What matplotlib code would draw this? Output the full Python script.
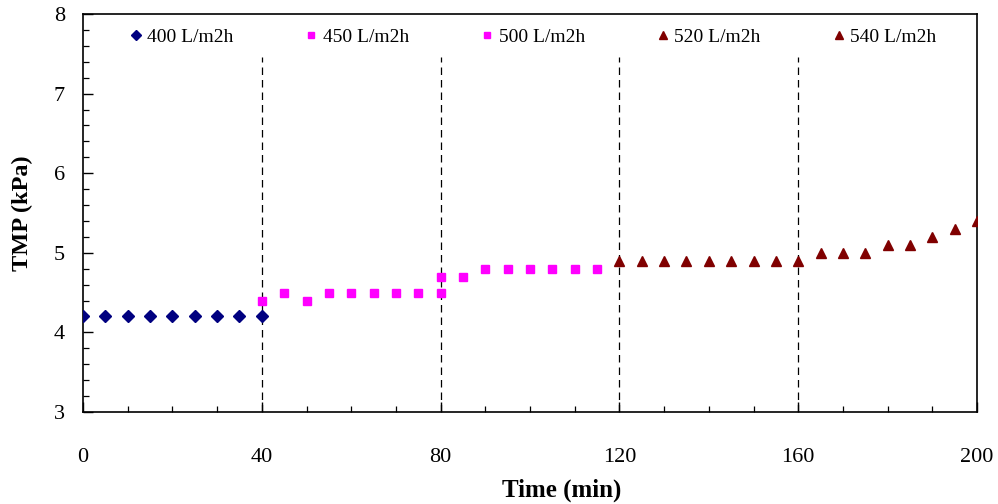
import matplotlib.pyplot as plt
from matplotlib.ticker import MultipleLocator

plt.rcParams['font.family'] = ['Liberation Serif', 'DejaVu Serif']

# TMP at each flux step
t_400 = [0, 5, 10, 15, 20, 25, 30, 35, 40]
tmp_400 = [4.2, 4.2, 4.2, 4.2, 4.2, 4.2, 4.2, 4.2, 4.2]

t_450 = [40, 45, 50, 55, 60, 65, 70, 75, 80]
tmp_450 = [4.4, 4.5, 4.4, 4.5, 4.5, 4.5, 4.5, 4.5, 4.5]

t_500 = [80, 85, 90, 95, 100, 105, 110, 115]
tmp_500 = [4.7, 4.7, 4.8, 4.8, 4.8, 4.8, 4.8, 4.8]

t_520 = [120, 125, 130, 135, 140, 145, 150, 155, 160]
tmp_520 = [4.9, 4.9, 4.9, 4.9, 4.9, 4.9, 4.9, 4.9, 4.9]

t_540 = [165, 170, 175, 180, 185, 190, 195, 200]
tmp_540 = [5.0, 5.0, 5.0, 5.1, 5.1, 5.2, 5.3, 5.4]

step_times = [40, 80, 120, 160]
labels = ["400 L/m2h", "450 L/m2h", "500 L/m2h", "520 L/m2h", "540 L/m2h"]

fig = plt.figure(figsize=(9.98, 5.04), dpi=100)
ax = fig.add_axes([0.0832, 0.1825, 0.8958, 0.7897])

# step boundaries
for t in step_times:
    ax.plot([t, t], [3, 7.46], color="black", lw=0.9, ls=(0, (6, 4)), zorder=1)

ax.plot(t_400, tmp_400, ls="none", marker="D", ms=6.3, color="#000080", label=labels[0], zorder=3)
ax.plot(t_450, tmp_450, ls="none", marker="s", ms=6.3, color="#FF00FF", label=labels[1], zorder=3)
ax.plot(t_500, tmp_500, ls="none", marker="s", ms=6.3, color="#FF00FF", label=labels[2], zorder=3)
ax.plot(t_520, tmp_520, ls="none", marker="^", ms=7, color="#800000", label=labels[3], zorder=3)
ax.plot(t_540, tmp_540, ls="none", marker="^", ms=7, color="#800000", label=labels[4], zorder=3)

ax.set_xlim(0, 200)
ax.set_ylim(3, 8)
ax.xaxis.set_major_locator(MultipleLocator(40))
ax.xaxis.set_minor_locator(MultipleLocator(10))
ax.yaxis.set_major_locator(MultipleLocator(1))
ax.yaxis.set_minor_locator(MultipleLocator(0.2))
ax.tick_params(which="major", direction="in", length=7, width=1.0, labelsize=16)
ax.tick_params(which="minor", direction="in", length=4, width=0.9)
ax.tick_params(axis="x", which="major", pad=26)
ax.tick_params(axis="y", which="major", pad=13)
for s in ax.spines.values():
    s.set_linewidth(1.2)

ax.set_xlabel("Time (min)", fontsize=18, fontweight="bold")
ax.set_ylabel("TMP (kPa)", fontsize=17.5, fontweight="bold")
ax.xaxis.set_label_coords(0.535, -0.168)
ax.yaxis.set_label_coords(-0.056, 0.5)

ax.legend(loc="upper center", bbox_to_anchor=(0.504, 1.008), ncol=5, frameon=False,
          fontsize=14, handlelength=0.5, handletextpad=0.35, columnspacing=3.75,
          markerscale=0.75)

fig.savefig("out.png", dpi=100)
